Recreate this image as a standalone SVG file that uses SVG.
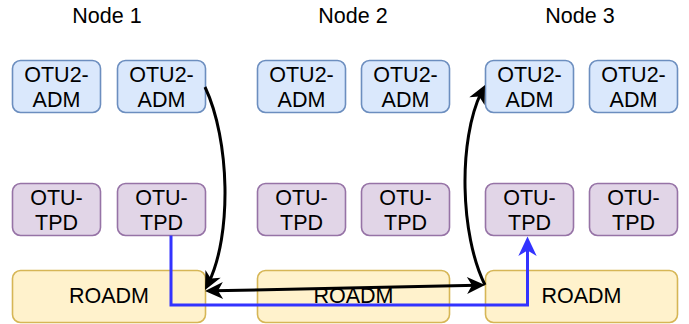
<svg xmlns="http://www.w3.org/2000/svg" xmlns:xlink="http://www.w3.org/1999/xlink" width="689" height="324" viewBox="0 0 689 324">
  <style>
    text { font-family: "Liberation Sans", Arial, Helvetica, sans-serif; font-size: 21.5px; fill: #000; text-anchor: middle; }
    .adm { fill: #dae8fc; stroke: #6c8ebf; stroke-width: 1.6; }
    .tpd { fill: #e1d5e7; stroke: #9673a6; stroke-width: 1.6; }
    .roadm { fill: #fff2cc; stroke: #d6b656; stroke-width: 1.6; }
    .link { fill: none; stroke: #000; stroke-width: 3; }
    .path { fill: none; stroke: #3333ff; stroke-width: 3; }
    .head-black { fill: #000; }
    .head-blue { fill: #3333ff; }
  </style>
  <defs>
    <!-- classic notched arrowhead, tip at the origin pointing along +x -->
    <path id="arrowhead" d="M0,0 L-18,-8.5 L-13,0 L-18,8.5 z"/>
  </defs>

  <!-- site titles -->
  <g id="titles">
    <text x="107" y="23">Node 1</text>
    <text x="353" y="23">Node 2</text>
    <text x="580" y="23">Node 3</text>
  </g>

  <!-- Node 1 -->
  <g id="n1-adm1"><rect class="adm" x="12.5" y="60.5" width="88" height="52" rx="8"/><text x="56.5" y="81.5">OTU2-</text><text x="56.5" y="106.5">ADM</text></g>
  <g id="n1-adm2"><rect class="adm" x="117.5" y="60.5" width="88" height="52" rx="8"/><text x="161.5" y="81.5">OTU2-</text><text x="161.5" y="106.5">ADM</text></g>
  <g id="n1-tpd1"><rect class="tpd" x="12.5" y="183.5" width="88" height="52" rx="8"/><text x="56.5" y="204.5">OTU-</text><text x="56.5" y="229.5">TPD</text></g>
  <g id="n1-tpd2"><rect class="tpd" x="117.5" y="183.5" width="88" height="52" rx="8"/><text x="161.5" y="204.5">OTU-</text><text x="161.5" y="229.5">TPD</text></g>
  <g id="n1-roadm"><rect class="roadm" x="12.5" y="270.5" width="193" height="52" rx="8"/><text x="109" y="303">ROADM</text></g>

  <!-- Node 2 -->
  <g id="n2-adm1"><rect class="adm" x="257.5" y="60.5" width="88" height="52" rx="8"/><text x="301.5" y="81.5">OTU2-</text><text x="301.5" y="106.5">ADM</text></g>
  <g id="n2-adm2"><rect class="adm" x="361.5" y="60.5" width="88" height="52" rx="8"/><text x="405.5" y="81.5">OTU2-</text><text x="405.5" y="106.5">ADM</text></g>
  <g id="n2-tpd1"><rect class="tpd" x="257.5" y="183.5" width="88" height="52" rx="8"/><text x="301.5" y="204.5">OTU-</text><text x="301.5" y="229.5">TPD</text></g>
  <g id="n2-tpd2"><rect class="tpd" x="361.5" y="183.5" width="88" height="52" rx="8"/><text x="405.5" y="204.5">OTU-</text><text x="405.5" y="229.5">TPD</text></g>
  <g id="n2-roadm"><rect class="roadm" x="257.5" y="270.5" width="192" height="52" rx="8"/><text x="353.5" y="303">ROADM</text></g>

  <!-- Node 3 -->
  <g id="n3-adm1"><rect class="adm" x="485.5" y="60.5" width="88" height="52" rx="8"/><text x="529.5" y="81.5">OTU2-</text><text x="529.5" y="106.5">ADM</text></g>
  <g id="n3-adm2"><rect class="adm" x="589.5" y="60.5" width="88" height="52" rx="8"/><text x="633.5" y="81.5">OTU2-</text><text x="633.5" y="106.5">ADM</text></g>
  <g id="n3-tpd1"><rect class="tpd" x="485.5" y="183.5" width="88" height="52" rx="8"/><text x="529.5" y="204.5">OTU-</text><text x="529.5" y="229.5">TPD</text></g>
  <g id="n3-tpd2"><rect class="tpd" x="589.5" y="183.5" width="88" height="52" rx="8"/><text x="633.5" y="204.5">OTU-</text><text x="633.5" y="229.5">TPD</text></g>
  <g id="n3-roadm"><rect class="roadm" x="485.5" y="270.5" width="192" height="52" rx="8"/><text x="581.5" y="303">ROADM</text></g>

  <!-- connectors -->
  <g id="connectors">
    <!-- client path: Node 1 OTU-TPD to Node 3 OTU-TPD -->
    <path class="path" d="M171,235.5 V305 H527.5 V246"/>
    <use xlink:href="#arrowhead" href="#arrowhead" class="head-blue" transform="translate(527.5,236.5) rotate(-90) scale(1.08)"/>

    <!-- Node 1 OTU2-ADM down to Node 1 ROADM -->
    <path class="link" d="M205,87 C230,140 232,235 208.6,282.8"/>
    <use xlink:href="#arrowhead" href="#arrowhead" class="head-black" transform="translate(205,290) rotate(116.6)"/>

    <!-- ROADM to ROADM line -->
    <path class="link" d="M213,290.8 L477,285.2"/>
    <use xlink:href="#arrowhead" href="#arrowhead" class="head-black" transform="translate(205,291) rotate(178.8)"/>
    <use xlink:href="#arrowhead" href="#arrowhead" class="head-black" transform="translate(485,285) rotate(-1.2)"/>

    <!-- Node 3 ROADM up to Node 3 OTU2-ADM -->
    <path class="link" d="M485,285 C460,235 458,140 481.4,92.2"/>
    <use xlink:href="#arrowhead" href="#arrowhead" class="head-black" transform="translate(485,85) rotate(-63.4)"/>
  </g>
</svg>
